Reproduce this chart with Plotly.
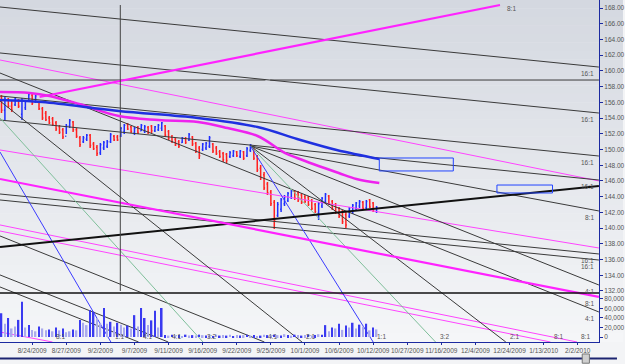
import plotly.graph_objects as go

# ---------------- data ----------------
tick_labels = ["8/24/2009", "8/27/2009", "9/2/2009", "9/7/2009", "9/11/2009", "9/16/2009",
               "9/22/2009", "9/25/2009", "10/1/2009", "10/6/2009", "10/12/2009", "10/27/2009",
               "11/16/2009", "12/4/2009", "12/24/2009", "1/13/2010", "2/2/2010"]

bar_open = [156.7, 155.0, 156.4, 155.5, 155.7, 156.3, 154.5, 155.3, 156.2, 156.9,
            156.0, 156.0, 155.2, 154.6, 154.0, 153.9, 153.4, 152.9, 152.5, 151.7,
            153.0, 153.5, 152.5, 151.5, 151.0, 151.3, 151.8, 150.7, 150.3, 149.6,
            150.2, 150.4, 151.0, 151.7, 151.6, 151.7, 152.3, 153.2, 152.9, 152.1,
            152.8, 152.4, 152.3, 152.8, 153.0, 152.4, 152.5, 152.7, 153.0, 152.3,
            151.6, 151.3, 151.0, 150.9, 151.4, 151.2, 151.6, 150.8, 150.2, 150.0,
            150.2, 150.4, 150.7, 150.2, 149.7, 149.5, 149.4, 149.1, 149.2, 149.7,
            149.1, 149.7, 149.2, 149.9, 150.1, 149.1, 147.6, 146.8, 145.6, 144.6,
            143.3, 141.6, 142.4, 143.1, 143.5, 143.9, 144.7, 144.5, 144.2, 144.0,
            143.9, 143.5, 143.0, 141.9, 142.8, 143.4, 144.1, 143.4, 143.0, 142.5,
            142.1, 141.7, 141.5, 142.1, 142.5, 142.8, 143.3, 142.6, 143.6, 143.2,
            142.1]
bar_high = [156.93, 156.68, 156.55, 156.30, 156.68, 156.42, 156.55, 156.30, 157.19, 157.06,
            156.93, 156.17, 155.41, 154.90, 154.26, 154.13, 153.63, 153.12, 152.73, 153.24,
            153.88, 153.63, 152.73, 151.72, 151.72, 151.97, 151.97, 150.95, 150.57, 150.83,
            151.08, 151.21, 152.10, 151.84, 151.84, 152.86, 153.24, 153.37, 152.99, 152.86,
            152.99, 153.24, 153.12, 152.99, 153.12, 152.99, 153.24, 153.50, 153.12, 152.48,
            151.84, 151.46, 151.21, 151.59, 151.59, 152.10, 151.72, 150.95, 150.45, 150.83,
            150.95, 151.72, 150.83, 150.45, 149.94, 149.68, 149.55, 149.81, 149.94, 149.81,
            149.94, 149.81, 150.32, 150.70, 150.19, 149.30, 148.03, 147.14, 145.87, 144.85,
            143.58, 143.32, 143.83, 144.21, 144.59, 144.85, 144.85, 144.72, 144.47, 144.21,
            144.08, 143.70, 143.19, 143.32, 143.96, 144.47, 144.21, 143.58, 143.19, 142.69,
            142.30, 142.05, 142.69, 143.07, 143.32, 143.58, 143.45, 143.58, 143.70, 143.32,
            142.81]
bar_low = [154.64, 153.75, 155.28, 154.77, 155.53, 155.28, 153.75, 155.02, 156.04, 155.66,
           155.91, 155.02, 153.75, 153.63, 153.24, 152.99, 152.35, 151.97, 151.34, 151.97,
           152.73, 152.23, 151.46, 150.32, 150.83, 151.08, 150.19, 149.94, 149.17, 149.30,
           149.94, 150.19, 150.83, 151.08, 151.08, 151.59, 151.97, 152.48, 152.10, 151.84,
           151.97, 152.35, 152.10, 151.97, 152.10, 152.23, 152.35, 152.35, 151.59, 151.21,
           150.83, 150.45, 150.19, 150.83, 150.70, 151.08, 150.45, 149.55, 148.79, 149.81,
           149.94, 150.19, 149.55, 149.30, 148.92, 148.41, 148.28, 148.92, 149.05, 149.05,
           148.92, 148.66, 149.05, 149.68, 148.66, 147.14, 146.12, 144.85, 144.21, 142.81,
           139.89, 141.41, 142.05, 142.81, 143.32, 143.70, 143.58, 143.32, 143.07, 143.19,
           142.81, 142.30, 141.92, 141.03, 142.56, 143.19, 142.94, 142.30, 141.79, 141.29,
           140.52, 140.01, 141.29, 141.79, 142.30, 142.56, 142.30, 142.43, 142.56, 142.05,
           141.92]
bar_close = [155.0, 156.4, 155.5, 155.0, 156.5, 155.5, 156.2, 156.1, 157.0, 155.9,
             156.8, 155.2, 154.0, 153.8, 153.4, 153.2, 152.6, 152.2, 151.6, 153.0,
             153.7, 152.5, 151.7, 150.6, 151.5, 151.8, 150.5, 150.1, 149.5, 150.6,
             150.9, 151.0, 151.9, 151.2, 151.2, 152.7, 153.1, 152.6, 152.3, 152.7,
             152.1, 153.1, 152.9, 152.2, 152.4, 152.9, 153.1, 153.4, 151.8, 151.4,
             151.0, 150.6, 150.4, 151.5, 150.9, 151.9, 150.7, 149.8, 149.2, 150.7,
             150.8, 151.5, 149.8, 149.5, 149.1, 148.7, 148.6, 149.6, 149.8, 149.2,
             149.8, 148.9, 150.1, 150.6, 148.9, 147.4, 146.4, 145.1, 144.5, 143.1,
             141.0, 143.0, 143.6, 144.0, 144.4, 144.7, 143.8, 143.6, 143.3, 143.4,
             143.0, 142.5, 142.1, 143.1, 143.8, 144.3, 143.1, 142.5, 142.0, 141.5,
             140.8, 140.4, 142.5, 142.9, 143.2, 143.4, 142.5, 143.4, 142.7, 142.2,
             142.6]
volume = [50000, 28000, 40000, 18000, 22000, 36000, 74000, 20000, 25000, 15000,
          12000, 22000, 18000, 14000, 16000, 12000, 20000, 14000, 18000, 10000,
          12000, 16000, 14000, 36000, 30000, 25000, 57000, 53000, 40000, 30000,
          61000, 28000, 32000, 22000, 30000, 26000, 20000, 24000, 18000, 46000,
          22000, 61000, 40000, 25000, 35000, 55000, 20000, 61000, 4000, 3000,
          5000, 3000, 4000, 2000, 5000, 3000, 4000, 3000, 5000, 4000,
          3000, 4000, 2000, 5000, 3000, 4000, 3000, 5000, 2000, 4000,
          3000, 4000, 5000, 3000, 4000, 2000, 3000, 5000, 4000, 3000,
          5000, 4000, 3000, 6000, 4000, 3000, 5000, 4000, 3000, 4000,
          5000, 3000, 4000, 6000, 5000, 25000, 12000, 20000, 18000, 28000,
          15000, 24000, 20000, 30000, 18000, 26000, 22000, 28000, 14000, 20000,
          16000]
volume_dark = [1, 0, 1, 0, 0, 1, 1, 0, 1, 0,
               0, 1, 0, 0, 1, 0, 1, 0, 1, 0,
               0, 1, 0, 1, 0, 0, 1, 1, 0, 0,
               1, 0, 1, 0, 1, 0, 0, 1, 0, 1,
               0, 1, 1, 0, 1, 1, 0, 1, 1, 0,
               1, 0, 1, 0, 1, 0, 1, 0, 1, 0,
               1, 0, 1, 0, 1, 0, 1, 0, 1, 0,
               1, 0, 1, 0, 1, 0, 1, 0, 1, 0,
               1, 0, 1, 0, 1, 0, 1, 0, 1, 0,
               1, 0, 1, 0, 1, 1, 0, 1, 0, 1,
               0, 1, 0, 1, 0, 1, 0, 1, 0, 1,
               0]

# moving averages (bar index, price)
ma_blue_x = [-0.44, 12.0, 34.4, 57.6, 75.1, 86.7, 98.3, 110.8]
ma_blue_y = [156.30, 156.04, 154.90, 154.01, 152.86, 151.34, 149.94, 148.79]
ma_mag_x = [-0.44, 8.3, 14.1, 22.8, 34.4, 46.0, 57.6, 66.3, 75.1, 83.2, 86.7, 98.9, 104.1, 110.8]
ma_mag_y = [157.31, 157.19, 156.81, 155.79, 154.26, 153.75, 153.50, 152.73, 151.72, 149.55, 148.92, 147.01, 146.25, 145.74]

# trend / fan lines: (x0, price0, x1, price1, label)
dark_lines = [
    (-0.44, 168.13, 175.2, 160.49, "16:1"),
    (-0.44, 162.28, 175.2, 154.64, "16:1"),
    (-0.44, 158.84, 77.4, 158.84, ""),
    (78.8, 158.84, 175.2, 158.84, ""),
    (-0.44, 156.81, 175.2, 149.17, "16:1"),
    (-0.44, 153.75, 175.2, 146.12, "16:1"),
    (-0.44, 159.73, 175.2, 129.33, "4:1"),
    (-0.44, 156.17, 88.12, 125.51, "2:1"),
    (-0.44, 144.34, 175.2, 136.71, "16:1"),
    (-0.44, 143.58, 175.2, 135.94, "16:1"),
    (-0.44, 139.00, 77.1, 125.51, "4:1"),
    (-0.44, 134.04, 48.9, 125.51, "4:1"),
    (-0.44, 132.51, 40.2, 125.51, "4:1"),
    (73.0, 150.45, 147.9, 125.51, "2:1"),
    (73.0, 150.45, 175.2, 132.76, "4:1"),
    (73.0, 150.45, 175.2, 142.18, "8:1"),
]
thick_dark_lines = [
    (-0.44, 137.60, 175.2, 145.36, ""),
]
blue_lines = [
    (73.0, 150.45, 109.0, 125.51, "1:1"),
    (-0.44, 149.68, 32.08, 125.51, "1:1"),
]
green_lines = [
    (73.0, 150.45, 127.3, 125.51, "3:2"),
    (-0.44, 154.01, 59.09, 125.51, "3:2"),
]
magenta_thin_lines = [
    (-0.44, 161.39, 175.2, 146.00, ""),
    (-0.44, 149.94, 175.2, 137.47, ""),
    (-0.44, 139.63, 161.0, 125.51, "8:1"),
    (-0.44, 140.40, 168.8, 125.51, "8:1"),
    (-0.44, 126.78, 14.95, 125.51, "8:1"),
]
magenta_thick_lines = [
    (11.18, 156.68, 146.2, 168.38, "8:1"),
    (-0.44, 146.25, 175.2, 131.24, "8:1"),
]
vertical_marker = (34.84, 168.38, 132.0)
boxes_blue = [(110.8, 148.92, 132.5, 147.27), (145.3, 145.48, 161.6, 144.47)]

# ---------------- figure ----------------
X_MIN, X_MAX = -0.44, 175.23
Y_MIN, Y_MAX = 125.51, 169.02
fig = go.Figure()

# background gradient bands
top_rgb = (212, 216, 224)
bot_rgb = (245, 246, 248)
n_bands = 40
for k in range(n_bands):
    t = k / (n_bands - 1)
    c = tuple(int(round(top_rgb[j] + (bot_rgb[j] - top_rgb[j]) * t)) for j in range(3))
    fig.add_shape(type="rect", xref="paper", yref="paper", layer="below",
                  x0=0, x1=1.04, y0=1 - (k + 1) / n_bands, y1=1 - k / n_bands + 0.001,
                  fillcolor="rgb(%d,%d,%d)" % c, line_width=0)


def add_lines(lines, color, width, label_color="#555"):
    for (x0, y0, x1, y1, lab) in lines:
        fig.add_trace(go.Scatter(x=[x0, x1], y=[y0, y1], mode="lines",
                                 line=dict(color=color, width=width),
                                 hoverinfo="skip", showlegend=False))
        if not lab:
            continue
        if x1 >= X_MAX - 1:      # ends on the right edge
            fig.add_annotation(x=x1, y=y1, text=lab, showarrow=False,
                               xanchor="right", yanchor="top", xshift=-3, yshift=-1,
                               font=dict(size=6.5, color=label_color))
        elif y1 <= Y_MIN + 0.5:  # ends on the bottom edge
            fig.add_annotation(x=x1, y=y1, text=lab, showarrow=False,
                               xanchor="left", yanchor="bottom", xshift=2, yshift=0,
                               font=dict(size=6.5, color=label_color))
        else:                    # ends inside the plot
            fig.add_annotation(x=x1, y=y1, text=lab, showarrow=False,
                               xanchor="left", yanchor="middle", xshift=5, yshift=-3,
                               font=dict(size=6.5, color=label_color))


add_lines(magenta_thin_lines, "#ff44ff", 1)
add_lines(dark_lines, "#3a3a3a", 1)
add_lines(green_lines, "#7fbf9a", 1)
add_lines(blue_lines, "#3b3bff", 1)
add_lines(thick_dark_lines, "#111111", 2)
add_lines(magenta_thick_lines, "#ff22ff", 2.2)

# vertical marker
fig.add_trace(go.Scatter(x=[vertical_marker[0], vertical_marker[0]],
                         y=[vertical_marker[1], vertical_marker[2]], mode="lines",
                         line=dict(color="#444", width=1), hoverinfo="skip", showlegend=False))

# moving averages
fig.add_trace(go.Scatter(x=ma_mag_x, y=ma_mag_y, mode="lines", line=dict(color="#ee22ee", width=2.5),
                         line_shape="spline", hoverinfo="skip", showlegend=False))
fig.add_trace(go.Scatter(x=ma_blue_x, y=ma_blue_y, mode="lines", line=dict(color="#1f30e0", width=2.5),
                         line_shape="spline", hoverinfo="skip", showlegend=False))

for (bx0, by0, bx1, by1) in boxes_blue:
    fig.add_shape(type="rect", xref="x", yref="y", x0=bx0, x1=bx1, y0=by0, y1=by1,
                  line=dict(color="#2244ff", width=1), fillcolor="rgba(0,0,0,0)")

xs = list(range(len(bar_open)))
fig.add_trace(go.Ohlc(x=xs, open=bar_open, high=bar_high, low=bar_low, close=bar_close,
                      increasing=dict(line=dict(color="#1f2fff", width=1.5)),
                      decreasing=dict(line=dict(color="#ff2020", width=1.5)),
                      tickwidth=0.3, hoverinfo="skip", showlegend=False))

fig.add_trace(go.Bar(x=xs, y=volume, yaxis="y2", width=0.45,
                     marker=dict(color=["#3a3af0" if d else "#aaaaee" for d in volume_dark],
                                 line_width=0),
                     hoverinfo="skip", showlegend=False))

# pane separator & scrollbar
fig.add_shape(type="line", xref="paper", yref="paper", x0=0, x1=1, y0=0.1433, y1=0.1433,
              line=dict(color="#111", width=1.5))
fig.add_shape(type="line", xref="paper", yref="paper", x0=0, x1=1.03, y0=-0.048, y1=-0.048,
              line=dict(color="#1c2470", width=2))
fig.add_shape(type="rect", xref="paper", yref="paper", x0=0.972, x1=0.984, y0=-0.062, y1=-0.035,
              line=dict(color="#777", width=1), fillcolor="#cfcfcf")

tick_vals = [9 + 10 * k for k in range(len(tick_labels))]
axis_col = "#1c2aa0"
fig.update_layout(
    width=625, height=364,
    margin=dict(l=0, r=20, t=0, b=22),
    paper_bgcolor="#f3f4f6", plot_bgcolor="rgba(0,0,0,0)",
    font=dict(family="Liberation Sans, Arial, sans-serif", size=7, color="#555"),
    showlegend=False,
    xaxis=dict(range=[X_MIN, X_MAX], tickvals=tick_vals, ticktext=tick_labels, tickangle=0,
               showgrid=False, zeroline=False, showline=True, linecolor=axis_col, linewidth=1,
               ticks="outside", ticklen=2, tickcolor=axis_col, tickfont=dict(size=6.5, color="#555"),
               rangeslider=dict(visible=False), fixedrange=True),
    yaxis=dict(domain=[0, 1], range=[Y_MIN, Y_MAX], side="right",
               tickvals=list(range(132, 169, 2)), tickformat=".2f",
               showgrid=False, zeroline=False, showline=True, linecolor=axis_col, linewidth=1,
               ticks="outside", ticklen=3, tickcolor=axis_col, tickfont=dict(size=6.5, color="#555")),
    yaxis2=dict(domain=[0, 0.1433], anchor="x", range=[-10500, 92600], side="right",
                tickvals=[0, 20000, 40000, 60000, 80000], tickformat=",d",
                showgrid=False, zeroline=False, showline=False,
                ticks="outside", ticklen=3, tickcolor=axis_col, tickfont=dict(size=6.5, color="#555")),
)

fig.write_html("out.html")
